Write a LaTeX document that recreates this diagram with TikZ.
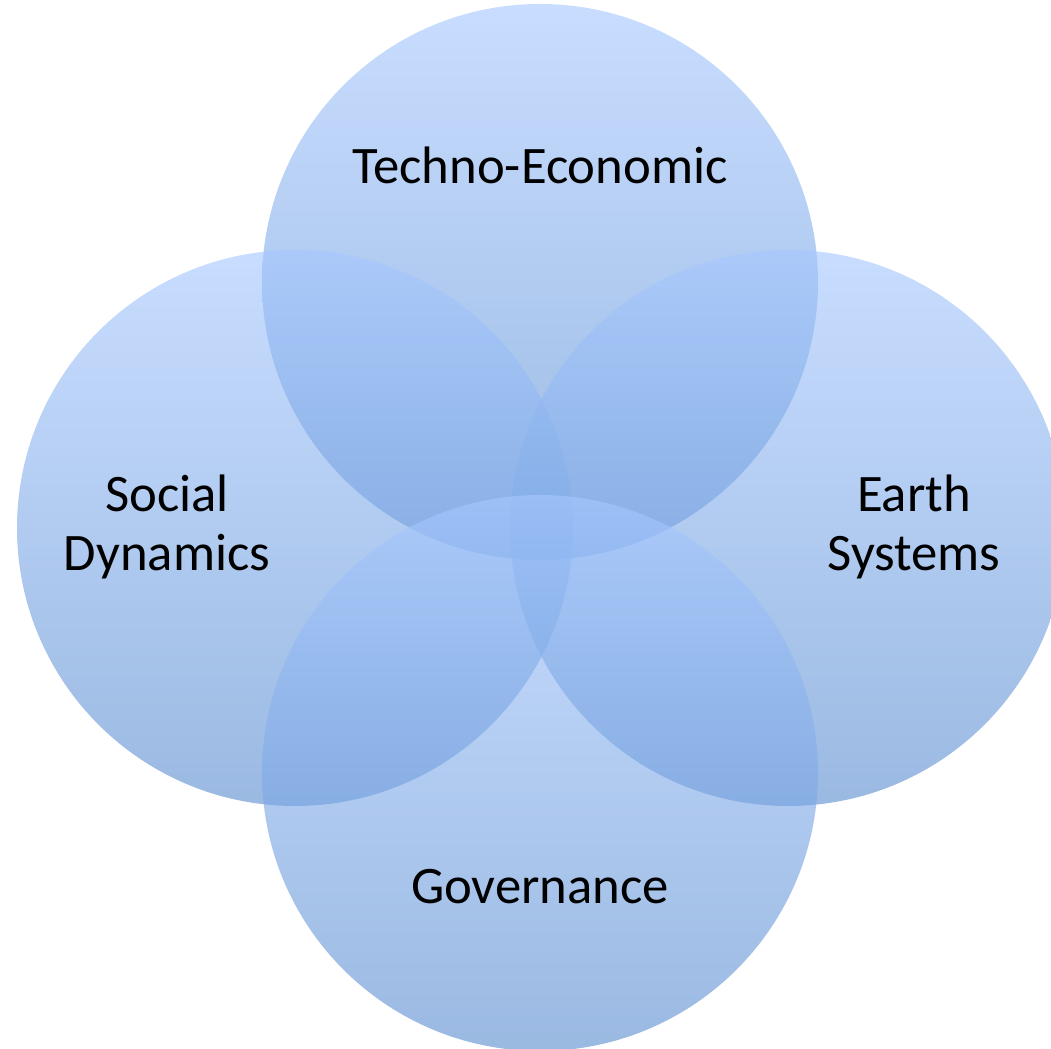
\documentclass[tikz,border=0pt]{standalone}
\usepackage{fontspec}
\setmainfont{Carlito}
\usepackage{xcolor}
\usepackage{tikz}
\usetikzlibrary{shapes.geometric, positioning}

\definecolor{ringtop}{RGB}{166,200,255}
\definecolor{ringbot}{RGB}{92,142,208}

\begin{document}
\begin{tikzpicture}[
    ring/.style={circle,minimum size=5.56cm,inner sep=0pt,top color=ringtop,bottom color=ringbot,fill opacity=0.62,draw=none},
    label/.style={align=center,font=\fontsize{15}{17}\selectfont,text=black}
  ]
    \useasboundingbox (0,0) rectangle (10.51,10.49);

    % Circles
    \node[ring] (techno) at (5.40,7.67) {};
    \node[ring] (social) at (2.95,5.21) {};
    \node[ring] (earth) at (7.88,5.21) {};
    \node[ring] (gov) at (5.40,2.76) {};

    % Labels
    \node[label] (technol) at (5.40,8.84) {Techno-Economic};
    \node[label] (sociall) at (1.67,5.22) {Social\\Dynamics};
    \node[label] (earthl) at (9.14,5.22) {Earth\\Systems};
    \node[label] (govl) at (5.40,1.62) {Governance};
\end{tikzpicture}
\end{document}
